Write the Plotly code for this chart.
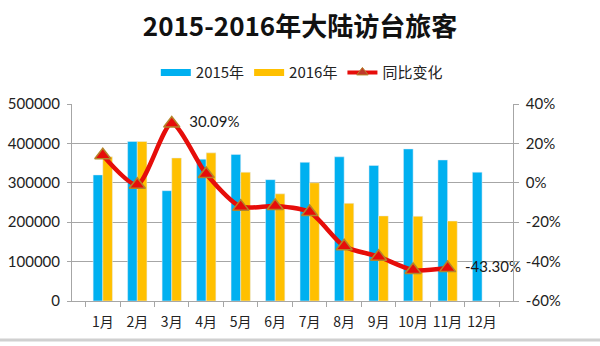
import plotly.graph_objects as go
from plotly.subplots import make_subplots

months = ["1月", "2月", "3月", "4月", "5月", "6月", "7月", "8月", "9月", "10月", "11月", "12月"]
visitors_2015 = [320000, 405000, 280000, 360000, 372000, 308000, 352000, 366000, 344000, 386000, 358000, 327000]
visitors_2016 = [366000, 405000, 363000, 376000, 327000, 272000, 300000, 248000, 216000, 215000, 203000, None]
yoy_change = [0.14, -0.01, 0.3009, 0.045, -0.121, -0.118, -0.148, -0.322, -0.375, -0.443, -0.433, None]
yoy_labels = ["", "", "30.09%", "", "", "", "", "", "", "", "-43.30%", ""]

left_ticks = [0, 100000, 200000, 300000, 400000, 500000]
left_tick_text = ["0", "100000", "200000", "300000", "400000", "500000"]
right_ticks = [-0.6, -0.4, -0.2, 0, 0.2, 0.4]
right_tick_text = ["-60%", "-40%", "-20%", "0%", "20%", "40%"]

BLUE = "#00b0f0"
YELLOW = "#ffc000"
RED = "#e60d0a"
GRID = "#a6a6a6"
NUMFONT = "Lato, 'Noto Sans CJK SC', sans-serif"
CJK = "'Noto Sans CJK SC', sans-serif"
NBSP = "\u00a0"

fig = make_subplots(specs=[[{"secondary_y": True}]])

fig.add_trace(go.Bar(x=months, y=visitors_2015, name="2015年", marker_color=BLUE,
                     showlegend=False), secondary_y=False)
fig.add_trace(go.Bar(x=months, y=visitors_2016, name="2016年", marker_color=YELLOW,
                     showlegend=False), secondary_y=False)
fig.add_trace(go.Scatter(x=months, y=yoy_change, name="同比变化", mode="lines+markers+text",
                         text=[(NBSP * 2 + t) if t else "" for t in yoy_labels],
                         textposition="middle right",
                         textfont=dict(size=15, color="#1a1a1a", family=NUMFONT),
                         line=dict(color=RED, width=4.5, shape="spline", smoothing=0.7),
                         marker=dict(symbol="triangle-up", size=14, color=RED,
                                     line=dict(color="#b5842a", width=1.5)),
                         cliponaxis=False, showlegend=False), secondary_y=True)

# legend entries
fig.add_trace(go.Scatter(x=[None], y=[None], name="2015年", mode="lines",
                         line=dict(color=BLUE, width=7)), secondary_y=False)
fig.add_trace(go.Scatter(x=[None], y=[None], name="2016年", mode="lines",
                         line=dict(color=YELLOW, width=7)), secondary_y=False)
fig.add_trace(go.Scatter(x=[None], y=[None], name="同比变化", mode="lines+markers",
                         line=dict(color=RED, width=4),
                         marker=dict(symbol="triangle-up", size=10, color="#c0392b",
                                     line=dict(color="#b5842a", width=1))), secondary_y=True)

fig.update_layout(
    width=600, height=346,
    margin=dict(l=72, r=59, t=104, b=45),
    paper_bgcolor="white", plot_bgcolor="white",
    barmode="group", bargap=0.44, bargroupgap=0,
    title=dict(text="<b>2015-2016年大陆访台旅客</b>", x=0.5, xanchor="center",
               y=1 - 27 / 346, yanchor="middle",
               font=dict(family=CJK, size=26, color="#111111")),
    legend=dict(orientation="h", x=0.49, xanchor="center", y=1.159, yanchor="middle",
                font=dict(family=CJK, size=15, color="#222222"),
                itemwidth=30, bgcolor="rgba(0,0,0,0)"),
    font=dict(family=NUMFONT, size=15, color="#222222"),
    shapes=[dict(type="line", xref="paper", yref="paper", x0=-0.2, x1=1.2,
                 y0=-0.198, y1=-0.198, line=dict(color="#d0d0d0", width=3))],
)

fig.update_xaxes(type="category", showline=True, linecolor=GRID, linewidth=1,
                 ticks="outside", tickson="boundaries", ticklen=5, tickcolor=GRID,
                 showgrid=False, tickangle=0, automargin=False,
                 tickfont=dict(family=CJK, size=14, color="#222222"),
                 ticklabelstandoff=8)
fig.update_yaxes(range=[0, 500000], tickvals=left_ticks, ticktext=left_tick_text,
                 showgrid=True, gridcolor=GRID, gridwidth=1, zeroline=False,
                 showline=True, linecolor=GRID, ticks="outside", ticklen=4, tickcolor=GRID,
                 automargin=False, ticklabelstandoff=4,
                 tickfont=dict(family=NUMFONT, size=15, color="#222222"),
                 secondary_y=False)
fig.update_yaxes(range=[-0.6, 0.4], tickvals=right_ticks, ticktext=right_tick_text,
                 showgrid=False, zeroline=False, automargin=False,
                 showline=True, linecolor=GRID, ticks="outside", ticklen=5, tickcolor=GRID,
                 ticklabelstandoff=4,
                 tickfont=dict(family=NUMFONT, size=15, color="#222222"),
                 secondary_y=True)

fig.write_html("out.html")
